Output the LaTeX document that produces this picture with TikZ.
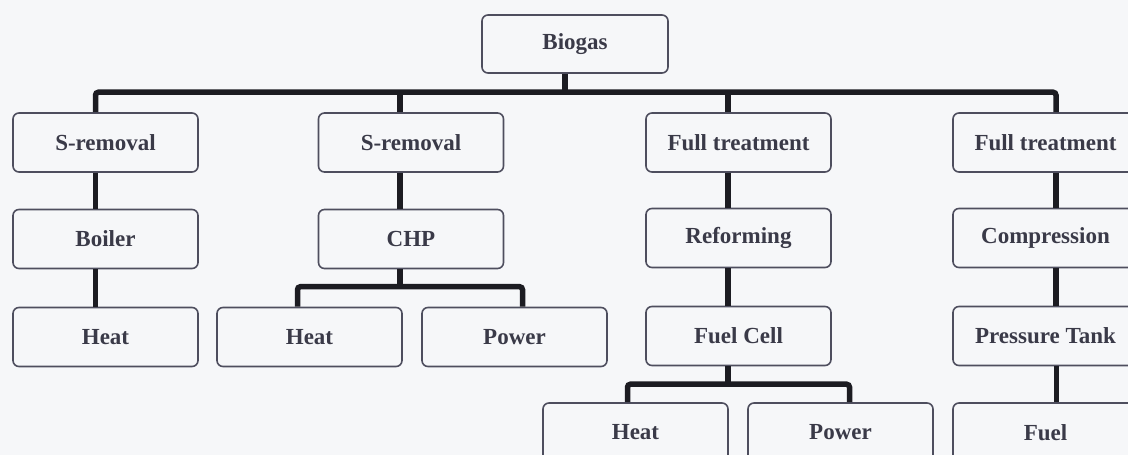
\documentclass[tikz,border=0pt]{standalone}
\usepackage{fontspec}
\setmainfont{Liberation Serif}
\begin{document}
\begin{tikzpicture}[x=1pt,y=-1pt,
  box/.style={draw=boxline, line width=1.6pt, rounded corners=6pt, fill=bgc,
    minimum width=185pt, minimum height=59pt, inner sep=0pt,
    font=\fontsize{23}{26}\selectfont\bfseries, text=txt},
  bus/.style={draw=busc, line width=5.5pt, rounded corners=3pt}]
\definecolor{bgc}{HTML}{F6F7F9}
\definecolor{boxline}{HTML}{4E4E5E}
\definecolor{txt}{HTML}{3A3A48}
\definecolor{busc}{HTML}{1C1C22}
\useasboundingbox (0,0) rectangle (1128,455);
\clip (0,0) rectangle (1128,455);
\fill[bgc] (0,0) rectangle (1128,455);

\node[box, minimum width=186pt, minimum height=58pt] (biogas) at (575,44) {Biogas};

\node[box] (sr1) at (105.5,142.5) {S-removal};
\node[box] (sr2) at (411,142.5) {S-removal};
\node[box] (ft1) at (738.5,142.5) {Full treatment};
\node[box] (ft2) at (1045.5,142.5) {Full treatment};

\node[box] (boiler) at (105.5,239) {Boiler};
\node[box] (chp) at (411,239) {CHP};
\node[box] (reform) at (738.5,238) {Reforming};
\node[box] (compr) at (1045.5,238) {Compression};

\node[box] (heat1) at (105.5,337) {Heat};
\node[box] (heatc) at (309.5,337) {Heat};
\node[box] (powerc) at (514.5,337) {Power};
\node[box] (fcell) at (738.5,336) {Fuel Cell};
\node[box] (ptank) at (1045.5,336) {Pressure Tank};

\node[box] (heatf) at (635.5,432.5) {Heat};
\node[box] (powerf) at (840.5,432.5) {Power};
\node[box] (fuel) at (1045.5,432.5) {Fuel};

% main tree
\draw[bus] ([xshift=-10pt]biogas.south) -- ++(0,20);
\draw[bus] ([xshift=-10pt]sr1.north) -- ++(0,-20) -| ([xshift=10.5pt]ft2.north);
\draw[bus] ([xshift=-11pt]sr2.north) -- ++(0,-20);
\draw[bus] ([xshift=-10.5pt]ft1.north) -- ++(0,-20);

% column 1
\draw[bus] ([xshift=-10pt]sr1.south) -- ([xshift=-10pt]boiler.north);
\draw[bus] ([xshift=-10pt]boiler.south) -- ([xshift=-10pt]heat1.north);

% column 2
\draw[bus] ([xshift=-11pt]sr2.south) -- ([xshift=-11pt]chp.north);
\draw[bus] ([xshift=-11pt]chp.south) -- ++(0,19);
\draw[bus] ([xshift=-12pt]heatc.north) -- ++(0,-20) -| ([xshift=8pt]powerc.north);

% column 3
\draw[bus] ([xshift=-10.5pt]ft1.south) -- ([xshift=-10.5pt]reform.north);
\draw[bus] ([xshift=-10.5pt]reform.south) -- ([xshift=-10.5pt]fcell.north);
\draw[bus] ([xshift=-10.5pt]fcell.south) -- ++(0,20);
\draw[bus] ([xshift=-8pt]heatf.north) -- ++(0,-18) -| ([xshift=9pt]powerf.north);

% column 4
\draw[bus] ([xshift=10.5pt]ft2.south) -- ([xshift=10.5pt]compr.north);
\draw[bus] ([xshift=10.5pt]compr.south) -- ([xshift=10.5pt]ptank.north);
\draw[bus] ([xshift=11pt]ptank.south) -- ([xshift=11pt]fuel.north);
\end{tikzpicture}
\end{document}
